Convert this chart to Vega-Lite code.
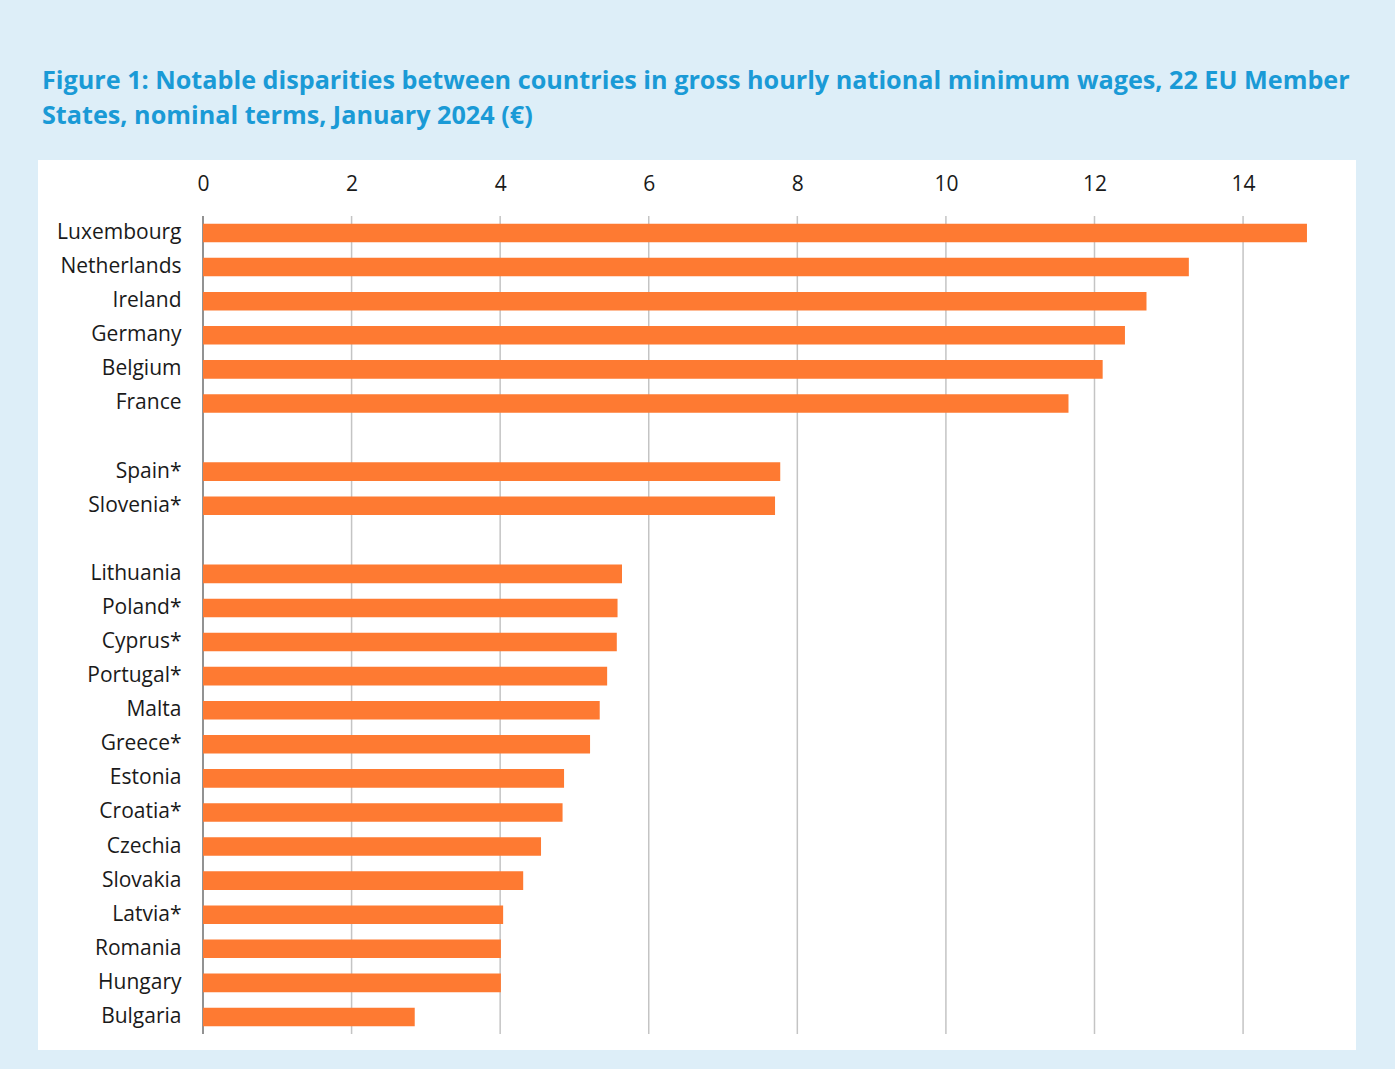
{
  "$schema": "https://vega.github.io/schema/vega-lite/v6.json",
  "autosize": {"type": "none"},
  "padding": {"left": 38, "top": 160, "right": 39, "bottom": 19},
  "width": 1318,
  "height": 890,
  "background": "#DDEEF8",
  "title": {
    "text": ["Figure 1: Notable disparities between countries in gross hourly national minimum wages, 22 EU Member", "States, nominal terms, January 2024 (€)"],
    "anchor": "start",
    "frame": "group",
    "font": "Open Sans",
    "fontWeight": 700,
    "fontSize": 25.2,
    "lineHeight": 35,
    "color": "#1A9AD6",
    "offset": 31,
    "dx": 4
  },
  "datasets": {
    "wages": [
      {"country": "Luxembourg", "wage": 14.86},
      {"country": "Netherlands", "wage": 13.27},
      {"country": "Ireland", "wage": 12.70},
      {"country": "Germany", "wage": 12.41},
      {"country": "Belgium", "wage": 12.11},
      {"country": "France", "wage": 11.65},
      {"country": "Spain*", "wage": 7.77},
      {"country": "Slovenia*", "wage": 7.70},
      {"country": "Lithuania", "wage": 5.64},
      {"country": "Poland*", "wage": 5.58},
      {"country": "Cyprus*", "wage": 5.57},
      {"country": "Portugal*", "wage": 5.44},
      {"country": "Malta", "wage": 5.34},
      {"country": "Greece*", "wage": 5.21},
      {"country": "Estonia", "wage": 4.86},
      {"country": "Croatia*", "wage": 4.84},
      {"country": "Czechia", "wage": 4.55},
      {"country": "Slovakia", "wage": 4.31},
      {"country": "Latvia*", "wage": 4.04},
      {"country": "Romania", "wage": 4.01},
      {"country": "Hungary", "wage": 4.01},
      {"country": "Bulgaria", "wage": 2.85}
    ],
    "grid": [
      {"g": 0, "kind": "zero"},
      {"g": 2, "kind": "grid"},
      {"g": 4, "kind": "grid"},
      {"g": 6, "kind": "grid"},
      {"g": 8, "kind": "grid"},
      {"g": 10, "kind": "grid"},
      {"g": 12, "kind": "grid"},
      {"g": 14, "kind": "grid"}
    ]
  },
  "encoding": {
    "y": {
      "field": "country",
      "type": "nominal",
      "scale": {
        "domain": ["   ", "Luxembourg", "Netherlands", "Ireland", "Germany", "Belgium", "France", " ", "Spain*", "Slovenia*", "  ", "Lithuania", "Poland*", "Cyprus*", "Portugal*", "Malta", "Greece*", "Estonia", "Croatia*", "Czechia", "Slovakia", "Latvia*", "Romania", "Hungary", "Bulgaria"],
        "paddingInner": 0.455,
        "paddingOuter": 0.7825,
        "align": 0.5553,
        "round": false
      },
      "axis": {
        "orient": "left",
        "offset": -165,
        "domain": false,
        "ticks": false,
        "grid": false,
        "labelPadding": 22,
        "labelFont": "Open Sans",
        "labelFontSize": 21,
        "labelColor": "#1a1a1a",
        "title": null
      }
    }
  },
  "layer": [
    {
      "data": {"name": "grid"},
      "mark": {"type": "rule", "strokeWidth": 1.5},
      "encoding": {
        "x": {"field": "g", "type": "quantitative"},
        "y": {"datum": "Luxembourg", "bandPosition": -0.4174},
        "y2": {"datum": "Bulgaria", "bandPosition": 1.4174},
        "color": {
          "field": "kind",
          "type": "nominal",
          "scale": {"domain": ["zero", "grid"], "range": ["#6E6E6E", "#C4C4C4"]},
          "legend": null
        }
      }
    },
    {
      "data": {"name": "wages"},
      "mark": {"type": "bar", "color": "#FE7A32"},
      "encoding": {
        "x": {
          "field": "wage",
          "type": "quantitative",
          "scale": {"domain": [-2.221, 15.52], "nice": false, "zero": false},
          "axis": {
            "orient": "top",
            "offset": -56,
            "values": [0, 2, 4, 6, 8, 10, 12, 14],
            "format": "d",
            "domain": false,
            "ticks": false,
            "grid": false,
            "labelPadding": 22,
            "labelFont": "Open Sans",
            "labelFontSize": 21,
            "labelColor": "#1a1a1a",
            "title": null
          }
        },
        "x2": {"datum": 0}
      }
    }
  ],
  "config": {
    "view": {"fill": "white", "stroke": null}
  }
}
